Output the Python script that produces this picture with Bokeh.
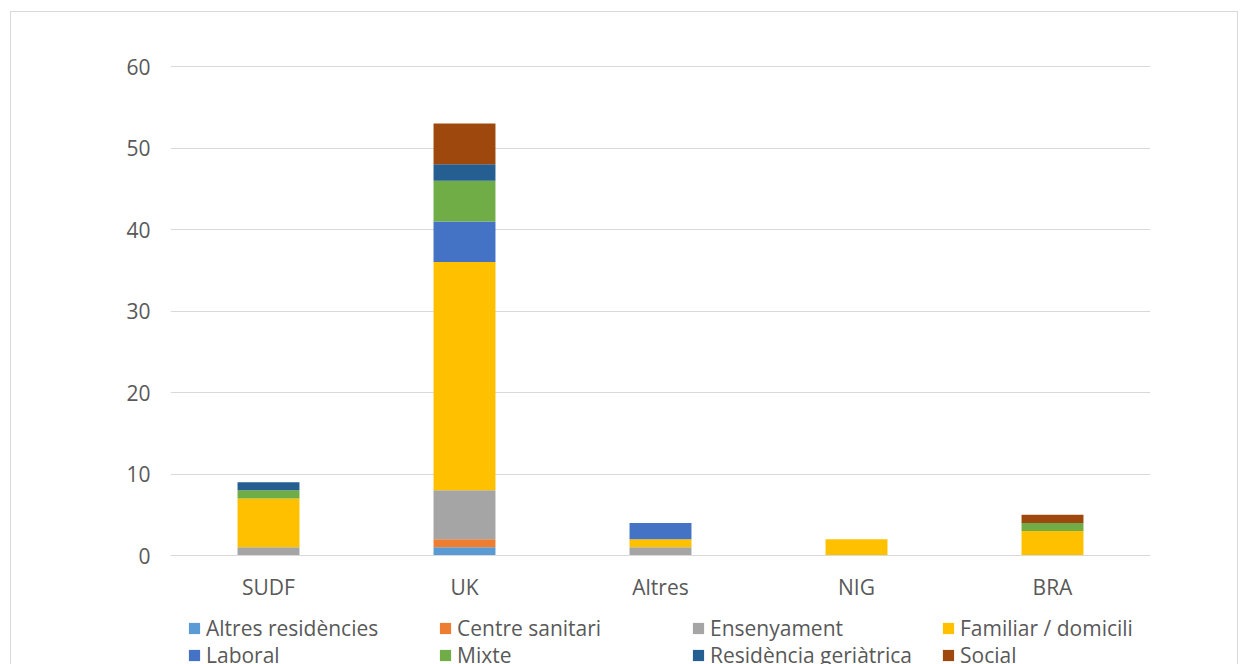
from bokeh.plotting import figure
from bokeh.layouts import column
from bokeh.models import Range1d, FactorRange, Legend, LegendItem
from bokeh.embed import file_html
from bokeh.resources import INLINE

categories = ["SUDF", "UK", "Altres", "NIG", "BRA"]
series = ["Altres residències", "Centre sanitari", "Ensenyament", "Familiar / domicili",
          "Laboral", "Mixte", "Residència geriàtrica", "Social"]
altres_residencies = [0, 1, 0, 0, 0]
centre_sanitari = [0, 1, 0, 0, 0]
ensenyament = [1, 6, 1, 0, 0]
familiar_domicili = [6, 28, 1, 2, 3]
laboral = [0, 5, 2, 0, 0]
mixte = [1, 5, 0, 0, 1]
residencia_geriatrica = [1, 2, 0, 0, 0]
social = [0, 5, 0, 0, 1]
colors = ["#5B9BD5", "#ED7D31", "#A5A5A5", "#FFC000", "#4472C4", "#70AD47", "#255E91", "#9E480E"]
y_ticks = [0, 10, 20, 30, 40, 50, 60]

values = [altres_residencies, centre_sanitari, ensenyament, familiar_domicili,
          laboral, mixte, residencia_geriatrica, social]
keys = ["s%d" % i for i in range(len(series))]
data = {"cat": categories}
for k, v in zip(keys, values):
    data[k] = v

FONT = "Open Sans"
TXT = "#595959"

# main chart
p = figure(x_range=FactorRange(*categories), y_range=Range1d(0, 60.25),
           width=1226, height=595, output_backend="svg", toolbar_location=None,
           min_border_left=159, min_border_right=87, min_border_top=52, min_border_bottom=52)
p.outline_line_color = None
p.background_fill_color = "white"
p.border_fill_color = "white"

p.vbar_stack(keys, x="cat", width=0.316, source=data, color=colors, line_color=None)

p.yaxis.ticker = y_ticks
p.yaxis.axis_line_color = None
p.yaxis.major_tick_line_color = None
p.yaxis.minor_tick_line_color = None
p.yaxis.major_tick_out = 0
p.yaxis.major_label_standoff = 20
p.xaxis.axis_line_color = "#D9D9D9"
p.xaxis.major_tick_line_color = None
p.xaxis.minor_tick_line_color = None
p.xaxis.major_tick_out = 0
p.xaxis.major_label_standoff = 17
for ax in (p.xaxis, p.yaxis):
    ax.major_label_text_font = FONT
    ax.major_label_text_font_size = "21px"
    ax.major_label_text_color = TXT
p.xgrid.grid_line_color = None
p.ygrid.grid_line_color = "#D9D9D9"
p.ygrid.grid_line_width = 1

# legend strip (same series, bars kept outside its visible range)
lf = figure(x_range=FactorRange(*categories), y_range=Range1d(1000, 1001),
            width=1226, height=57, output_backend="svg", toolbar_location=None,
            x_axis_type=None, y_axis_type=None,
            min_border_left=0, min_border_right=0, min_border_top=0, min_border_bottom=0)
lf.outline_line_color = None
lf.grid.visible = False
lf.background_fill_color = "white"
lf.border_fill_color = "white"
lrs = lf.vbar_stack(keys, x="cat", width=0.316, source=data, color=colors, line_color=None)

col_x = [17, 268, 521, 771]
row_y = [22, -5]
for i, (name, r) in enumerate(zip(series, lrs)):
    lg = Legend(items=[LegendItem(label=name, renderers=[r])],
                location=(col_x[i % 4], row_y[i // 4]),
                border_line_color=None, background_fill_alpha=0,
                padding=0, margin=0, spacing=0,
                glyph_width=14, glyph_height=14, label_standoff=5,
                label_height=27,
                label_text_font=FONT, label_text_font_size="21px",
                label_text_color=TXT)
    lf.add_layout(lg, "center")

layout = column(p, lf, spacing=0)
layout.styles = {"border-top": "1px solid #D9D9D9", "border-left": "1px solid #D9D9D9",
                 "border-right": "1px solid #D9D9D9", "margin-left": "10px", "margin-top": "11px"}

open("out.html", "w").write(file_html(layout, INLINE))
